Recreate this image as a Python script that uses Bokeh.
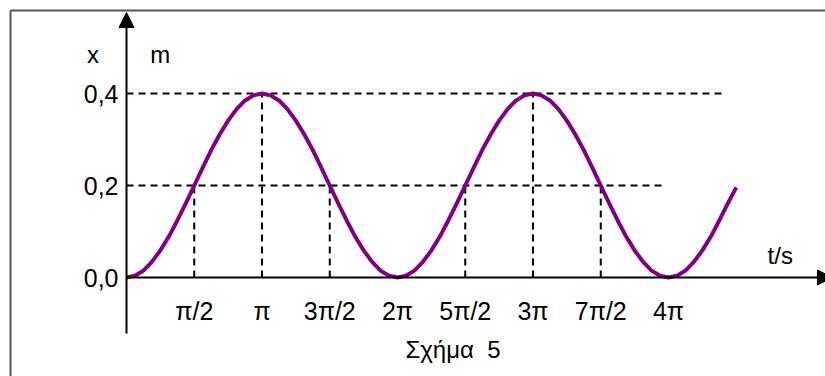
import numpy as np
from bokeh.plotting import figure
from bokeh.models import LinearAxis, FixedTicker, Arrow, NormalHead, Label, Range1d
from bokeh.embed import file_html
from bokeh.resources import INLINE

# ---- data (t measured in units of pi/2) ----
t_ticks = [1, 2, 3, 4, 5, 6, 7, 8]
t_labels = ["π/2", "π", "3π/2", "2π", "5π/2", "3π", "7π/2", "4π"]
x_ticks = [0.0, 0.2, 0.4]
x_labels = ["0,0", "0,2", "0,4"]

# displacement x (m) every pi/16 from t=0 to t=4.5pi
x_curve = [
    0.000, 0.004, 0.015, 0.034, 0.059, 0.089, 0.124, 0.161, 0.200,
    0.239, 0.277, 0.311, 0.341, 0.366, 0.385, 0.396, 0.400,
    0.396, 0.385, 0.366, 0.341, 0.311, 0.277, 0.239, 0.200,
    0.161, 0.124, 0.089, 0.059, 0.034, 0.015, 0.004, 0.000,
    0.004, 0.015, 0.034, 0.059, 0.089, 0.124, 0.161, 0.200,
    0.239, 0.277, 0.311, 0.341, 0.366, 0.385, 0.396, 0.400,
    0.396, 0.385, 0.366, 0.341, 0.311, 0.277, 0.239, 0.200,
    0.161, 0.124, 0.089, 0.059, 0.034, 0.015, 0.004, 0.000,
    0.004, 0.015, 0.034, 0.059, 0.089, 0.124, 0.161, 0.196,
]
t_curve = [k / 8 for k in range(len(x_curve))]

# dashed reference lines
v_guide_t = [1, 2, 3, 5, 6, 7]
v_guide_x = [0.2, 0.4, 0.2, 0.2, 0.4, 0.2]
h_guide_x = [0.4, 0.2]
h_guide_end = [8.8, 7.95]

FONT = "Liberation Sans"

p = figure(width=825, height=376, output_backend="svg", toolbar_location=None,
           x_axis_location=None, y_axis_location=None, min_border=0,
           x_range=Range1d(-1.8598, 10.3173), y_range=Range1d(-0.2152, 0.6022))
p.outline_line_color = None
p.background_fill_color = "white"
p.border_fill_color = "white"
p.grid.visible = False

# frame of the figure box (top + left edges)
p.segment(x0=[-1.712, -1.712], y0=[0.5804, 0.5804], x1=[10.4, -1.712], y1=[0.5804, -0.25],
          line_color="#555555", line_width=2)

# dashed guides
p.segment(x0=v_guide_t, y0=[0] * len(v_guide_t), x1=v_guide_t, y1=v_guide_x,
          line_color="black", line_width=2, line_dash="7 5")
p.segment(x0=[0, 0], y0=h_guide_x, x1=h_guide_end, y1=h_guide_x,
          line_color="black", line_width=2, line_dash="7 5")

# the curve
p.line(t_curve, x_curve, line_color="#800080", line_width=4)

# axes drawn as arrows
p.add_layout(Arrow(x_start=0, y_start=-0.1217, x_end=0, y_end=0.576,
                   line_color="black", line_width=2,
                   end=NormalHead(size=15, fill_color="black", line_color="black")))
p.add_layout(Arrow(x_start=0, y_start=0, x_end=10.42, y_end=0,
                   line_color="black", line_width=2,
                   end=NormalHead(size=15, fill_color="black", line_color="black")))

# axes with the tick labels, fixed through the origin
yax = LinearAxis(fixed_location=0, ticker=FixedTicker(ticks=x_ticks),
                 major_label_overrides={v: s for v, s in zip(x_ticks, x_labels)})
xax = LinearAxis(fixed_location=0, ticker=FixedTicker(ticks=t_ticks),
                 major_label_overrides={v: s for v, s in zip(t_ticks, t_labels)})
for ax, standoff in ((yax, 8), (xax, 19)):
    ax.axis_line_color = None
    ax.major_tick_line_color = None
    ax.minor_tick_line_color = None
    ax.major_tick_out = 0
    ax.major_tick_in = 0
    ax.major_label_standoff = standoff
    ax.major_label_text_font = FONT
    ax.major_label_text_font_size = "25px"
    ax.major_label_text_color = "black"
p.add_layout(yax, "left")
p.add_layout(xax, "below")

# texts
for txt, x, y in (("x", -0.494, 0.484), ("m", 0.497, 0.484),
                  ("t/s", 9.649, 0.048), ("Σχήμα\u00a0 5", 4.819, -0.156)):
    p.add_layout(Label(x=x, y=y, text=txt, text_font=FONT, text_font_size="24px",
                       text_color="black", text_align="center", text_baseline="middle"))

open("out.html", "w").write(file_html(p, INLINE))
